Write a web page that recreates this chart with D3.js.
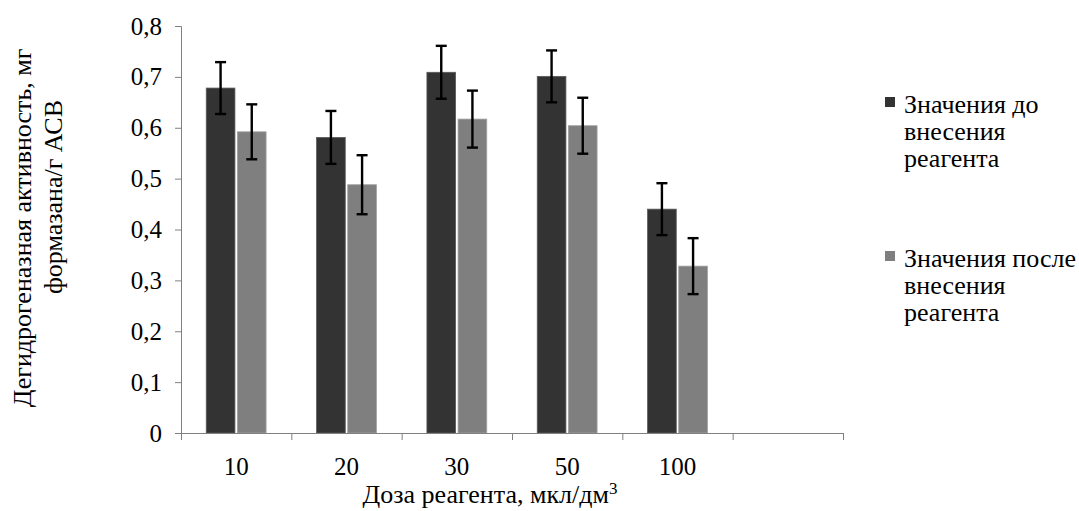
<!DOCTYPE html>
<html>
<head>
<meta charset="utf-8">
<script src="https://cdn.jsdelivr.net/npm/d3@7"></script>
<style>
  svg text, svg tspan { font-family: "Liberation Serif" !important; }
</style>
</head>
<body style="margin:0">
<script>
// chart data
const doses = ["10", "20", "30", "50", "100", ""];
const seriesNames = ["Значения до внесения реагента", "Значения после внесения реагента"];
const before = [0.678, 0.581, 0.709, 0.701, 0.440];
const after = [0.592, 0.488, 0.617, 0.604, 0.328];
const errBefore = [0.051, 0.052, 0.052, 0.051, 0.051];
const errAfter = [0.054, 0.058, 0.056, 0.055, 0.055];
const yTicks = [0, 0.1, 0.2, 0.3, 0.4, 0.5, 0.6, 0.7, 0.8];

const FONT = "Liberation Serif";
const W = 1079, H = 511;
const margin = {top: 26, right: 236, bottom: 78, left: 181};
const width = W - margin.left - margin.right;
const height = H - margin.top - margin.bottom;
const colors = ["#333333", "#7f7f7f"];
const strokes = ["#5a5a5a", "#a0a0a0"];
const axisColor = "#808080";

const svg = d3.select("body").append("svg")
  .attr("width", W)
  .attr("height", H)
  .attr("font-family", FONT);

const g = svg.append("g")
  .attr("transform", `translate(${margin.left},${margin.top})`);

const x = d3.scaleBand().domain(doses).range([0, width]).padding(0);
const xSub = d3.scaleBand().domain([0, 1]).range([0, x.bandwidth()])
  .paddingInner(0.08).paddingOuter(0.81);
const y = d3.scaleLinear().domain([0, 0.8]).range([height, 0]);

// y axis
const yAxis = d3.axisLeft(y).tickValues(yTicks).tickSize(6).tickPadding(13)
  .tickFormat(d => d === 0 ? "0" : d3.format(".1f")(d).replace(".", ","));
g.append("g").attr("class", "axis y")
  .call(yAxis)
  .attr("font-family", FONT)
  .attr("font-size", 25);

// bars
const rows = doses.slice(0, 5).map((d, i) => ({dose: d, vals: [before[i], after[i]], errs: [errBefore[i], errAfter[i]]}));

const groups = g.selectAll(".grp").data(rows).enter().append("g")
  .attr("class", "grp")
  .attr("transform", d => `translate(${x(d.dose)},0)`);

groups.selectAll("rect").data(d => d.vals.map((v, k) => ({v, k}))).enter().append("rect")
  .attr("x", d => xSub(d.k))
  .attr("y", d => y(d.v))
  .attr("width", xSub.bandwidth())
  .attr("height", d => height - y(d.v))
  .attr("fill", d => colors[d.k])
  .attr("stroke", d => strokes[d.k])
  .attr("stroke-width", 0.8);

// error bars
const cap = 5.5;
const eb = groups.selectAll(".err").data(d => d.vals.map((v, k) => ({v, e: d.errs[k], k}))).enter().append("g")
  .attr("class", "err")
  .attr("stroke", "#000")
  .attr("stroke-width", 2.4);
const cx = d => xSub(d.k) + xSub.bandwidth() / 2;
eb.append("line")
  .attr("x1", cx).attr("x2", cx)
  .attr("y1", d => y(d.v + d.e))
  .attr("y2", d => y(d.v - d.e));
eb.append("line")
  .attr("x1", d => cx(d) - cap).attr("x2", d => cx(d) + cap)
  .attr("y1", d => y(d.v + d.e))
  .attr("y2", d => y(d.v + d.e));
eb.append("line")
  .attr("x1", d => cx(d) - cap).attr("x2", d => cx(d) + cap)
  .attr("y1", d => y(d.v - d.e))
  .attr("y2", d => y(d.v - d.e));

// x axis: ticks on category borders, labels in the middle
const xEdge = d3.scaleLinear().domain([0, doses.length]).range([0, width]);
g.append("g").attr("class", "axis x")
  .attr("transform", `translate(0,${height})`)
  .call(d3.axisBottom(xEdge).tickValues(d3.range(doses.length + 1)).tickSize(7).tickFormat(""));
g.append("g").attr("class", "axis xlab")
  .attr("transform", `translate(0,${height})`)
  .call(d3.axisBottom(x).tickSize(0).tickPadding(24))
  .attr("font-family", FONT)
  .attr("font-size", 25)
  .call(s => s.select(".domain").remove());

g.selectAll(".axis path, .axis line").attr("stroke", axisColor);

// axis titles
const xt = svg.append("text")
  .attr("x", 490).attr("y", 503)
  .attr("text-anchor", "middle")
  .attr("font-size", 26)
  .text("Доза реагента, мкл/дм");
xt.append("tspan").attr("dy", -9).attr("font-size", 17).text("3");

svg.append("text")
  .attr("transform", "translate(31,228) rotate(-90)")
  .attr("text-anchor", "middle")
  .attr("font-size", 26)
  .text("Дегидрогеназная активность, мг");
svg.append("text")
  .attr("transform", "translate(62,197) rotate(-90)")
  .attr("text-anchor", "middle")
  .attr("font-size", 26)
  .text("формазана/г АСВ");

// legend
const legendLines = [["Значения до", "внесения", "реагента"], ["Значения после", "внесения", "реагента"]];
const leg = svg.append("g").attr("transform", "translate(885,0)");
const item = leg.selectAll(".li").data(legendLines).enter().append("g")
  .attr("class", "li")
  .attr("transform", (d, i) => `translate(0,${i === 0 ? 113 : 267})`);
item.append("rect")
  .attr("x", 0).attr("y", -16).attr("width", 10).attr("height", 10)
  .attr("fill", (d, i) => colors[i]);
item.append("text")
  .attr("font-size", 26)
  .selectAll("tspan").data(d => d).enter().append("tspan")
  .attr("x", 19)
  .attr("y", (d, j) => j * 27)
  .text(d => d);

svg.selectAll("text").attr("fill", "#000");
</script>
</body>
</html>
